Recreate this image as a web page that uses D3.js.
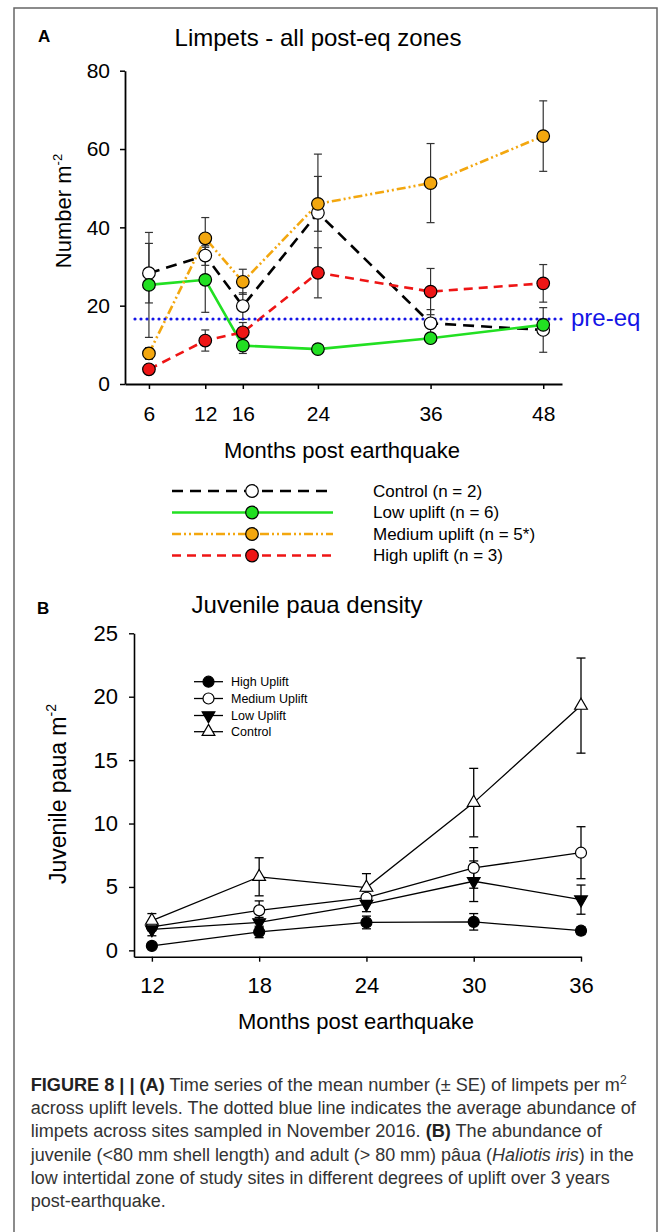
<!DOCTYPE html>
<html>
<head>
<meta charset="utf-8">
<script src="https://cdn.jsdelivr.net/npm/d3@7"></script>
<style>
  body { margin: 0; background: #fff; }
  svg { display: block; font-family: "Liberation Sans", Arial, sans-serif; }
</style>
</head>
<body>
<div id="art"></div>
<script>
// Panel A - limpets
const monthsA = [6, 12, 16, 24, 36, 48];
const namesA = ["Control (n = 2)", "Low uplift (n = 6)", "Medium uplift (n = 5*)", "High uplift (n = 3)"];
const controlA = [28.3, 32.8, 19.9, 43.7, 15.5, 13.8];
const controlSeA = [7.6, 2.5, 3.4, 15.0, 3.5, 5.7];
const lowA = [25.3, 26.6, 9.8, 8.9, 11.7, 15.1];
const lowSeA = [13.4, 8.3, 2.0, 1.0, 1.2, 1.5];
const mediumA = [7.8, 37.2, 26.1, 46.0, 51.3, 63.3];
const mediumSeA = [1.5, 5.3, 3.2, 7.0, 10.1, 9.0];
const highA = [3.75, 11.1, 13.2, 28.4, 23.6, 25.7];
const highSeA = [1.0, 2.7, 2.5, 6.4, 5.9, 4.8];
const preEq = 16.6;
const yTicksA = [0, 20, 40, 60, 80];

// Panel B - juvenile paua
const monthsB = [12, 18, 24, 30, 36];
const namesB = ["High Uplift", "Medium Uplift", "Low Uplift", "Control"];
const highB = [0.35, 1.45, 2.2, 2.25, 1.55];
const highSeB = [0.2, 0.45, 0.5, 0.65, 0.3];
const mediumB = [1.85, 3.15, 4.15, 6.5, 7.7];
const mediumSeB = [0.3, 0.75, 0.5, 1.6, 2.05];
const lowB = [1.65, 2.2, 3.65, 5.45, 4.0];
const lowSeB = [0.5, 0.4, 0.6, 1.6, 1.15];
const controlB = [2.35, 5.8, 4.95, 11.65, 19.3];
const controlSeB = [0.55, 1.5, 1.1, 2.7, 3.75];
const yTicksB = [0, 5, 10, 15, 20, 25];

function art() {
  const width = 671;
  const height = 1232;

  const svg = d3.select("#art")
    .append("svg")
    .attr("width", width)
    .attr("height", height);

  svg.append("rect")
    .attr("x", 14).attr("y", 8)
    .attr("width", 643).attr("height", 1240)
    .attr("fill", "none")
    .attr("stroke", "#666")
    .attr("stroke-width", 1.5);

  // ---------- panel A ----------
  const xA = d3.scaleLinear().domain([3.45, 50]).range([125, 562]);
  const yA = d3.scaleLinear().domain([0, 80]).range([384, 70.7]);

  const seriesA = [
    { name: namesA[0], v: controlA, se: controlSeA, stroke: "#000", fill: "#fff", dash: "11,7" },
    { name: namesA[1], v: lowA, se: lowSeA, stroke: "#22e022", fill: "#22e022", dash: null },
    { name: namesA[2], v: mediumA, se: mediumSeA, stroke: "#f3a70f", fill: "#f3a70f", dash: "9,3,2,3,2,3" },
    { name: namesA[3], v: highA, se: highSeA, stroke: "#ee1515", fill: "#ee1515", dash: "9,6" }
  ];

  svg.append("text")
    .attr("x", 38).attr("y", 42)
    .style("font-size", "17px").style("font-weight", "bold")
    .text("A");

  svg.append("text")
    .attr("x", 318).attr("y", 46)
    .attr("text-anchor", "middle")
    .style("font-size", "24px")
    .text("Limpets - all post-eq zones");

  const axA = svg.append("g");
  axA.append("g")
    .attr("transform", "translate(0,384)")
    .call(d3.axisBottom(xA).tickValues(monthsA).tickSize(5).tickSizeOuter(0).tickPadding(17))
    .call(g => g.selectAll("text").style("font-size", "21px").attr("fill", "#000"));
  axA.append("g")
    .attr("transform", "translate(125,0)")
    .call(d3.axisLeft(yA).tickValues(yTicksA).tickSize(5).tickSizeOuter(0).tickPadding(10))
    .call(g => g.selectAll("text").style("font-size", "21px").attr("fill", "#000"));
  axA.selectAll(".domain").attr("stroke", "#000").attr("stroke-width", 1.8);
  axA.selectAll(".tick line").attr("stroke", "#000").attr("stroke-width", 1.5);

  svg.append("text")
    .attr("x", 342).attr("y", 458)
    .attr("text-anchor", "middle")
    .style("font-size", "22px")
    .text("Months post earthquake");

  const yLabA = svg.append("text")
    .attr("transform", "translate(71,211) rotate(-90)")
    .attr("text-anchor", "middle")
    .style("font-size", "22px");
  yLabA.append("tspan").text("Number m");
  yLabA.append("tspan").attr("dy", -9).style("font-size", "13px").text("-2");

  // error bars
  seriesA.forEach(s => {
    const g = svg.append("g").attr("stroke", "#333").attr("stroke-width", 1.2);
    const pts = monthsA.map((m, i) => ({ m, v: s.v[i], se: s.se[i] }));
    g.selectAll("line.bar").data(pts).enter().append("line")
      .attr("x1", d => xA(d.m)).attr("x2", d => xA(d.m))
      .attr("y1", d => yA(d.v + d.se)).attr("y2", d => yA(d.v - d.se));
    g.selectAll("line.top").data(pts).enter().append("line")
      .attr("x1", d => xA(d.m) - 4).attr("x2", d => xA(d.m) + 4)
      .attr("y1", d => yA(d.v + d.se)).attr("y2", d => yA(d.v + d.se));
    g.selectAll("line.bot").data(pts).enter().append("line")
      .attr("x1", d => xA(d.m) - 4).attr("x2", d => xA(d.m) + 4)
      .attr("y1", d => yA(d.v - d.se)).attr("y2", d => yA(d.v - d.se));
  });

  const lineA = d3.line().x((d, i) => xA(monthsA[i])).y(d => yA(d));
  seriesA.forEach(s => {
    svg.append("path")
      .attr("d", lineA(s.v))
      .attr("fill", "none")
      .attr("stroke", s.stroke)
      .attr("stroke-width", 2.6)
      .attr("stroke-dasharray", s.dash);
  });

  // pre-eq dotted line
  svg.append("line")
    .attr("x1", 135).attr("x2", 566)
    .attr("y1", yA(preEq)).attr("y2", yA(preEq))
    .attr("stroke", "#1414e6")
    .attr("stroke-width", 3.2)
    .attr("stroke-linecap", "round")
    .attr("stroke-dasharray", "0,6");
  svg.append("text")
    .attr("x", 571).attr("y", 326)
    .attr("fill", "#1414e6")
    .style("font-size", "24px")
    .text("pre-eq");

  seriesA.forEach(s => {
    svg.selectAll(null).data(s.v).enter().append("circle")
      .attr("cx", (d, i) => xA(monthsA[i]))
      .attr("cy", d => yA(d))
      .attr("r", 6.3)
      .attr("fill", s.fill)
      .attr("stroke", "#000")
      .attr("stroke-width", 1.2);
  });

  // legend A
  const legA = svg.append("g");
  seriesA.forEach((s, i) => {
    const y = 491 + i * 21.5;
    legA.append("line")
      .attr("x1", 172).attr("x2", 333).attr("y1", y).attr("y2", y)
      .attr("stroke", s.stroke).attr("stroke-width", 2.6)
      .attr("stroke-dasharray", s.dash);
    legA.append("circle")
      .attr("cx", 252).attr("cy", y).attr("r", 6.3)
      .attr("fill", s.fill).attr("stroke", "#000").attr("stroke-width", 1.2);
    legA.append("text")
      .attr("x", 373).attr("y", y).attr("dy", "0.35em")
      .style("font-size", "17px")
      .text(s.name);
  });

  // ---------- panel B ----------
  const xB = d3.scaleLinear().domain([11, 36]).range([134, 581]);
  const yB = d3.scaleLinear().domain([-0.5, 25]).range([956.7, 633.3]);

  const seriesB = [
    { name: namesB[0], v: highB, se: highSeB, shape: d3.symbolCircle, size: 95, fill: "#000", rot: 0 },
    { name: namesB[1], v: mediumB, se: mediumSeB, shape: d3.symbolCircle, size: 95, fill: "#fff", rot: 0 },
    { name: namesB[2], v: lowB, se: lowSeB, shape: d3.symbolTriangle, size: 70, fill: "#000", rot: 180 },
    { name: namesB[3], v: controlB, se: controlSeB, shape: d3.symbolTriangle, size: 70, fill: "#fff", rot: 0 }
  ];

  svg.append("text")
    .attr("x", 37).attr("y", 614)
    .style("font-size", "17px").style("font-weight", "bold")
    .text("B");

  svg.append("text")
    .attr("x", 307).attr("y", 613)
    .attr("text-anchor", "middle")
    .style("font-size", "24px")
    .text("Juvenile paua density");

  const axB = svg.append("g");
  axB.append("g")
    .attr("transform", "translate(0,956.7)")
    .call(d3.axisBottom(xB).tickValues(monthsB).tickSize(5).tickSizeOuter(0).tickPadding(16))
    .call(g => g.selectAll("text").style("font-size", "22px").attr("fill", "#000"));
  axB.append("g")
    .attr("transform", "translate(134,0)")
    .call(d3.axisLeft(yB).tickValues(yTicksB).tickSize(5).tickSizeOuter(0).tickPadding(11))
    .call(g => g.selectAll("text").style("font-size", "22px").attr("fill", "#000"));
  axB.selectAll(".domain").attr("stroke", "#000").attr("stroke-width", 1.6);
  axB.selectAll(".tick line").attr("stroke", "#000").attr("stroke-width", 1.4);

  svg.append("text")
    .attr("x", 356).attr("y", 1029)
    .attr("text-anchor", "middle")
    .style("font-size", "22px")
    .text("Months post earthquake");

  const yLabB = svg.append("text")
    .attr("transform", "translate(66,794) rotate(-90)")
    .attr("text-anchor", "middle")
    .style("font-size", "23px");
  yLabB.append("tspan").text("Juvenile paua m");
  yLabB.append("tspan").attr("dy", -10).style("font-size", "14px").text("-2");

  seriesB.forEach(s => {
    const g = svg.append("g").attr("stroke", "#000").attr("stroke-width", 1.3);
    const pts = monthsB.map((m, i) => ({ m, v: s.v[i], se: s.se[i] }));
    g.selectAll("line.bar").data(pts).enter().append("line")
      .attr("x1", d => xB(d.m)).attr("x2", d => xB(d.m))
      .attr("y1", d => yB(d.v + d.se)).attr("y2", d => yB(d.v - d.se));
    g.selectAll("line.top").data(pts).enter().append("line")
      .attr("x1", d => xB(d.m) - 4.5).attr("x2", d => xB(d.m) + 4.5)
      .attr("y1", d => yB(d.v + d.se)).attr("y2", d => yB(d.v + d.se));
    g.selectAll("line.bot").data(pts).enter().append("line")
      .attr("x1", d => xB(d.m) - 4.5).attr("x2", d => xB(d.m) + 4.5)
      .attr("y1", d => yB(d.v - d.se)).attr("y2", d => yB(d.v - d.se));
  });

  const lineB = d3.line().x((d, i) => xB(monthsB[i])).y(d => yB(d));
  seriesB.forEach(s => {
    svg.append("path")
      .attr("d", lineB(s.v))
      .attr("fill", "none")
      .attr("stroke", "#000")
      .attr("stroke-width", 1.3);
  });

  seriesB.forEach(s => {
    svg.selectAll(null).data(s.v).enter().append("path")
      .attr("d", d3.symbol().type(s.shape).size(s.size))
      .attr("transform", (d, i) => `translate(${xB(monthsB[i])},${yB(d)}) rotate(${s.rot})`)
      .attr("fill", s.fill)
      .attr("stroke", "#000")
      .attr("stroke-width", 1.2);
  });

  // legend B
  const legB = svg.append("g");
  seriesB.forEach((s, i) => {
    const y = [681.7, 698.5, 715.5, 731.7][i];
    legB.append("line")
      .attr("x1", 194).attr("x2", 223).attr("y1", y).attr("y2", y)
      .attr("stroke", "#000").attr("stroke-width", 1.3);
    legB.append("path")
      .attr("d", d3.symbol().type(s.shape).size(s.size))
      .attr("transform", `translate(208.5,${y}) rotate(${s.rot})`)
      .attr("fill", s.fill).attr("stroke", "#000").attr("stroke-width", 1.2);
    legB.append("text")
      .attr("x", 231).attr("y", y).attr("dy", "0.35em")
      .style("font-size", "12.5px")
      .text(s.name);
  });

  // ---------- caption ----------
  const cap = svg.append("g").attr("fill", "#333").style("font-size", "18px");
  const capX = 30.7;
  const base = [1090.7, 1114, 1137.3, 1160.6, 1184, 1207.3];
  const lens = [596, 605, 571, 603, 579, 135];
  const rows = base.map((y, i) => cap.append("text")
    .attr("x", capX).attr("y", y)
    .attr("textLength", lens[i])
    .attr("lengthAdjust", "spacingAndGlyphs"));

  rows[0].append("tspan").style("font-weight", "bold").attr("fill", "#222").text("FIGURE 8 | | (A)");
  rows[0].append("tspan").text(" Time series of the mean number (\u00b1 SE) of limpets per m");
  rows[0].append("tspan").attr("dy", -7).style("font-size", "12px").text("2");
  rows[1].text("across uplift levels. The dotted blue line indicates the average abundance of");
  rows[2].append("tspan").text("limpets across sites sampled in November 2016. ");
  rows[2].append("tspan").style("font-weight", "bold").attr("fill", "#222").text("(B)");
  rows[2].append("tspan").text(" The abundance of");
  rows[3].append("tspan").text("juvenile (<80 mm shell length) and adult (> 80 mm) p\u00e2ua (");
  rows[3].append("tspan").style("font-style", "italic").text("Haliotis iris");
  rows[3].append("tspan").text(") in the");
  rows[4].text("low intertidal zone of study sites in different degrees of uplift over 3 years");
  rows[5].text("post-earthquake.");
}

window.onload = function () {
  art();
};
</script>
</body>
</html>
